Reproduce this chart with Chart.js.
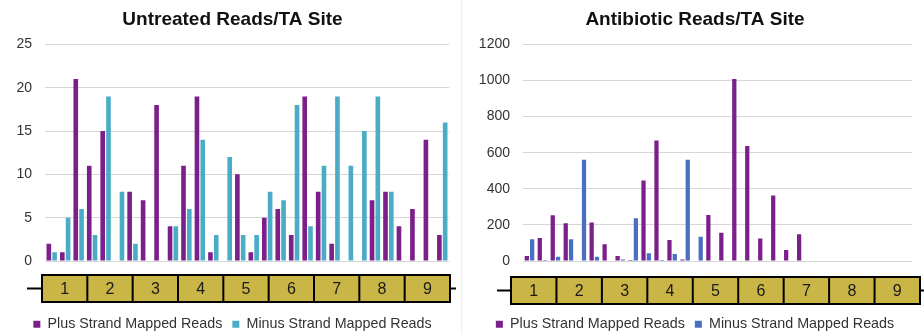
<!DOCTYPE html>
<html>
<head>
<meta charset="utf-8">
<script src="https://cdn.jsdelivr.net/npm/chart.js"></script>
<style>
  html, body { margin: 0; padding: 0; background: #fff; }
  #wrap { position: relative; width: 924px; height: 334px; }
  .box { position: absolute; top: 0; width: 462px; height: 334px; }
  #left { left: 0; border-right: 1px solid #eeeeee; box-sizing: border-box; }
  #right { left: 462px; }
</style>
</head>
<body>
<div id="wrap">
  <div class="box" id="left"><canvas id="untreated"></canvas></div>
  <div class="box" id="right"><canvas id="antibiotic"></canvas></div>
</div>
<script>
// TA sites 1..30 along the gene
var sites = [];
for (var i = 1; i <= 30; i++) sites.push(String(i));

var geneLabels = ['1', '2', '3', '4', '5', '6', '7', '8', '9'];

var untreatedPlus  = [2, 1, 21, 11, 15, 0, 8, 7, 18, 4, 11, 19, 1, 0, 10, 1, 5, 6, 3, 19, 8, 2, 0, 0, 7, 8, 4, 6, 14, 3];
var untreatedMinus = [1, 5, 6, 3, 19, 8, 2, 0, 0, 4, 6, 14, 3, 12, 3, 3, 8, 7, 18, 4, 11, 19, 11, 15, 19, 8, 0, 0, 0, 16];

var antibioticPlus  = [28, 128, 254, 209, 0, 213, 93, 28, 5, 446, 667, 117, 9, 3, 255, 157, 1009, 637, 124, 363, 61, 148, 0, 0, 0, 0, 0, 0, 0, 0];
var antibioticMinus = [120, 5, 24, 120, 561, 24, 0, 9, 237, 43, 5, 39, 561, 135, 0, 0, 0, 0, 0, 0, 0, 0, 0, 0, 0, 0, 0, 0, 0, 0];

var FONT = "'Liberation Sans', Arial, sans-serif";

// draws the gene (exons 1..9) under the x axis
var geneBox = {
  id: 'geneBox',
  afterDraw: function(chart, args, opts) {
    var ctx = chart.ctx;
    var n = geneLabels.length;
    var w = (opts.x1 - opts.x0) / n;
    var midY = opts.top + opts.h / 2;
    ctx.save();
    ctx.strokeStyle = '#000';
    ctx.lineWidth = 2;
    ctx.beginPath();
    ctx.moveTo(opts.stubL, midY);
    ctx.lineTo(opts.x0, midY);
    ctx.moveTo(opts.x1, midY);
    ctx.lineTo(opts.stubR, midY);
    ctx.stroke();
    ctx.fillStyle = '#c9b646';
    ctx.fillRect(opts.x0, opts.top, opts.x1 - opts.x0, opts.h);
    ctx.strokeRect(opts.x0, opts.top, opts.x1 - opts.x0, opts.h);
    ctx.beginPath();
    for (var k = 1; k < n; k++) {
      ctx.moveTo(opts.x0 + w * k, opts.top);
      ctx.lineTo(opts.x0 + w * k, opts.top + opts.h);
    }
    ctx.stroke();
    ctx.fillStyle = '#1a1a1a';
    ctx.font = '16px ' + FONT;
    ctx.textAlign = 'center';
    ctx.textBaseline = 'middle';
    for (var j = 0; j < n; j++) {
      ctx.fillText(geneLabels[j], opts.x0 + w * (j + 0.5), midY + 1);
    }
    ctx.restore();
  }
};

function makeChart(id, title, plus, minus, minusColor, yMax, yStep, yWidth, catPct, gene) {
  return new Chart(document.getElementById(id), {
    type: 'bar',
    data: {
      labels: sites,
      datasets: [{
        label: 'Plus Strand Mapped Reads',
        data: plus,
        backgroundColor: '#7b1f8a'
      }, {
        label: 'Minus Strand Mapped Reads',
        data: minus,
        backgroundColor: minusColor
      }]
    },
    options: {
      responsive: true,
      maintainAspectRatio: false,
      animation: false,
      layout: { padding: { left: 16, right: 12, top: 0, bottom: -7.5 } },
      datasets: { bar: { barPercentage: 0.8, categoryPercentage: catPct } },
      plugins: {
        title: {
          display: true,
          text: title,
          color: '#111',
          font: { family: FONT, size: 19, weight: 'bold' },
          padding: { top: 8, bottom: 13.6 }
        },
        legend: {
          position: 'bottom',
          labels: {
            color: '#333',
            font: { family: FONT, size: 14.3 },
            boxWidth: 7,
            boxHeight: 7,
            padding: 10
          }
        },
        tooltip: { enabled: false },
        geneBox: gene
      },
      scales: {
        x: {
          grid: { display: false },
          border: { display: false },
          ticks: { display: false },
          afterFit: function(scale) { scale.height = 46.2; }
        },
        y: {
          min: 0,
          max: yMax,
          ticks: {
            stepSize: yStep,
            padding: 13,
            color: '#333',
            font: { family: FONT, size: 14 },
            callback: function(v) { return String(v); }
          },
          grid: { color: '#d6d6d6', drawTicks: false },
          border: { display: false },
          afterFit: function(scale) { scale.width = yWidth; }
        }
      }
    },
    plugins: [geneBox]
  });
}

makeChart('untreated', 'Untreated Reads/TA Site', untreatedPlus, untreatedMinus, '#4bacc6',
  25, 5, 29, 0.86, { x0: 42, x1: 450, top: 275, h: 27, stubL: 27, stubR: 456 });

makeChart('antibiotic', 'Antibiotic Reads/TA Site', antibioticPlus, antibioticMinus, '#4a6fc2',
  1200, 200, 45, 0.82, { x0: 49, x1: 458, top: 277, h: 27, stubL: 35, stubR: 462 });
</script>
</body>
</html>
